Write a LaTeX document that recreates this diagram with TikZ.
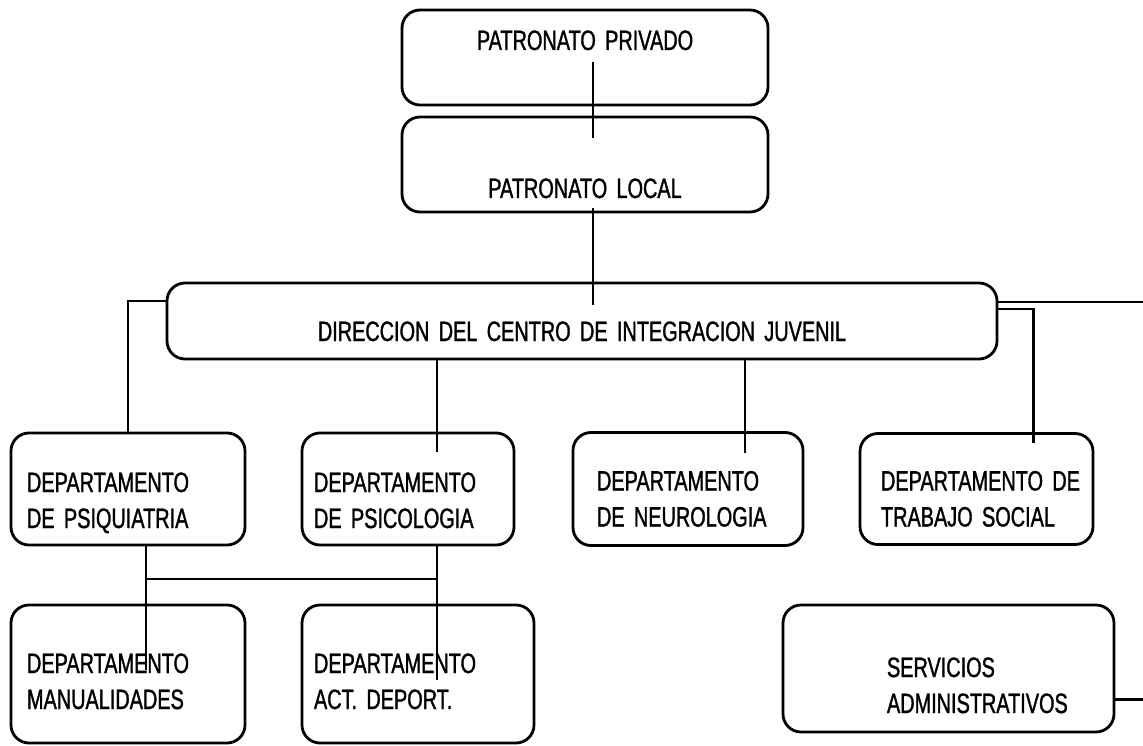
\documentclass[tikz,border=0pt]{standalone}
\usepackage{fontspec}
\newfontfamily\letra[FakeStretch=0.71, FakeBold=1.2, WordSpace=0.8]{Liberation Sans}
\usetikzlibrary{positioning}

\begin{document}
\begin{tikzpicture}[x=1pt, y=-1pt,
    caja/.style={draw, line width=2.8pt, outer sep=0pt, rounded corners=18pt, anchor=north west, align=left, inner ysep=0pt, font=\letra\fontsize{28}{36}\selectfont},
    linea/.style={line width=2.8pt}]

    \useasboundingbox (0,0) rectangle (1143,746);
    \coordinate (borde) at (1143,0);

    % Nodos
    \node [caja, align=center, inner xsep=0pt, text width=366pt, text height=40pt, text depth=55pt] (privado) at (402,10) {PATRONATO PRIVADO};
    \node [caja, align=center, inner xsep=0pt, text width=366pt, text height=81pt, text depth=14pt, below=12pt of privado] (local) {PATRONATO LOCAL};
    \node [caja, align=center, inner xsep=0pt, text width=830pt, text height=58pt, text depth=18pt] (direccion) at (167,283) {DIRECCION DEL CENTRO DE INTEGRACION JUVENIL};

    \node [caja, inner xsep=16pt, text width=202pt, text height=59pt, text depth=53pt] (psiquiatria) at (11,433) {DEPARTAMENTO\\DE PSIQUIATRIA};
    \node [caja, inner xsep=12pt, text width=188pt, text height=59pt, text depth=53pt, right=57pt of psiquiatria] (psicologia) {DEPARTAMENTO\\DE PSICOLOGIA};
    \node [caja, inner xsep=24pt, text width=182pt, text height=58pt, text depth=55pt, right=59pt of psicologia] (neurologia) {DEPARTAMENTO\\DE NEUROLOGIA};
    \node [caja, inner xsep=21pt, text width=191pt, text height=57pt, text depth=54pt, right=57pt of neurologia] (trabajo) {DEPARTAMENTO~DE\\TRABAJO SOCIAL};

    \node [caja, inner xsep=16pt, text width=202pt, text height=68pt, text depth=70pt, below=60pt of psiquiatria] (manual) {DEPARTAMENTO\\MANUALIDADES};
    \node [caja, inner xsep=12pt, text width=208pt, text height=68pt, text depth=70pt, below right=60pt and 0pt of psicologia.south west] (deporte) {DEPARTAMENTO\\ACT. DEPORT.};
    \node [caja, inner xsep=104pt, text width=123pt, text height=72pt, text depth=55pt] (servicios) at (783,605) {SERVICIOS\\ADMINISTRATIVOS};

    % Conexiones
    \draw [linea] ([xshift=8pt,yshift=-12pt]privado.base) -- ([xshift=8pt,yshift=-21pt]local.north);
    \draw [linea] ([xshift=8pt,yshift=4pt]local.south) -- ([xshift=8pt,yshift=-22pt]local.south |- direccion.north);

    \draw [linea] ([yshift=20pt]direccion.west) -| (psiquiatria.north);
    \draw [linea] ([yshift=19pt]direccion.east) -- ([yshift=19pt]direccion.east -| borde);
    \draw [linea] ([yshift=12pt]direccion.east) -| ([xshift=57pt,yshift=-9pt]trabajo.north);
    \draw [linea] ([xshift=29pt]psicologia.north |- direccion.south) -- ([xshift=29pt,yshift=-19pt]psicologia.north);
    \draw [linea] ([xshift=57pt]neurologia.north |- direccion.south) -- ([xshift=57pt,yshift=-20pt]neurologia.north);

    \draw [linea] ([xshift=18pt]psiquiatria.south) -- ([xshift=18pt,yshift=-65pt]manual.north);
    \draw [linea] ([xshift=18pt,yshift=-34pt]psiquiatria.south) -- ([xshift=29pt,yshift=-34pt]psicologia.south);
    \draw [linea] ([xshift=29pt]psicologia.south) -- ([xshift=19pt,yshift=-75pt]deporte.north);

    \draw [linea] ([yshift=-31pt]servicios.east) -- ([yshift=-31pt]servicios.east -| borde);

\end{tikzpicture}
\end{document}
